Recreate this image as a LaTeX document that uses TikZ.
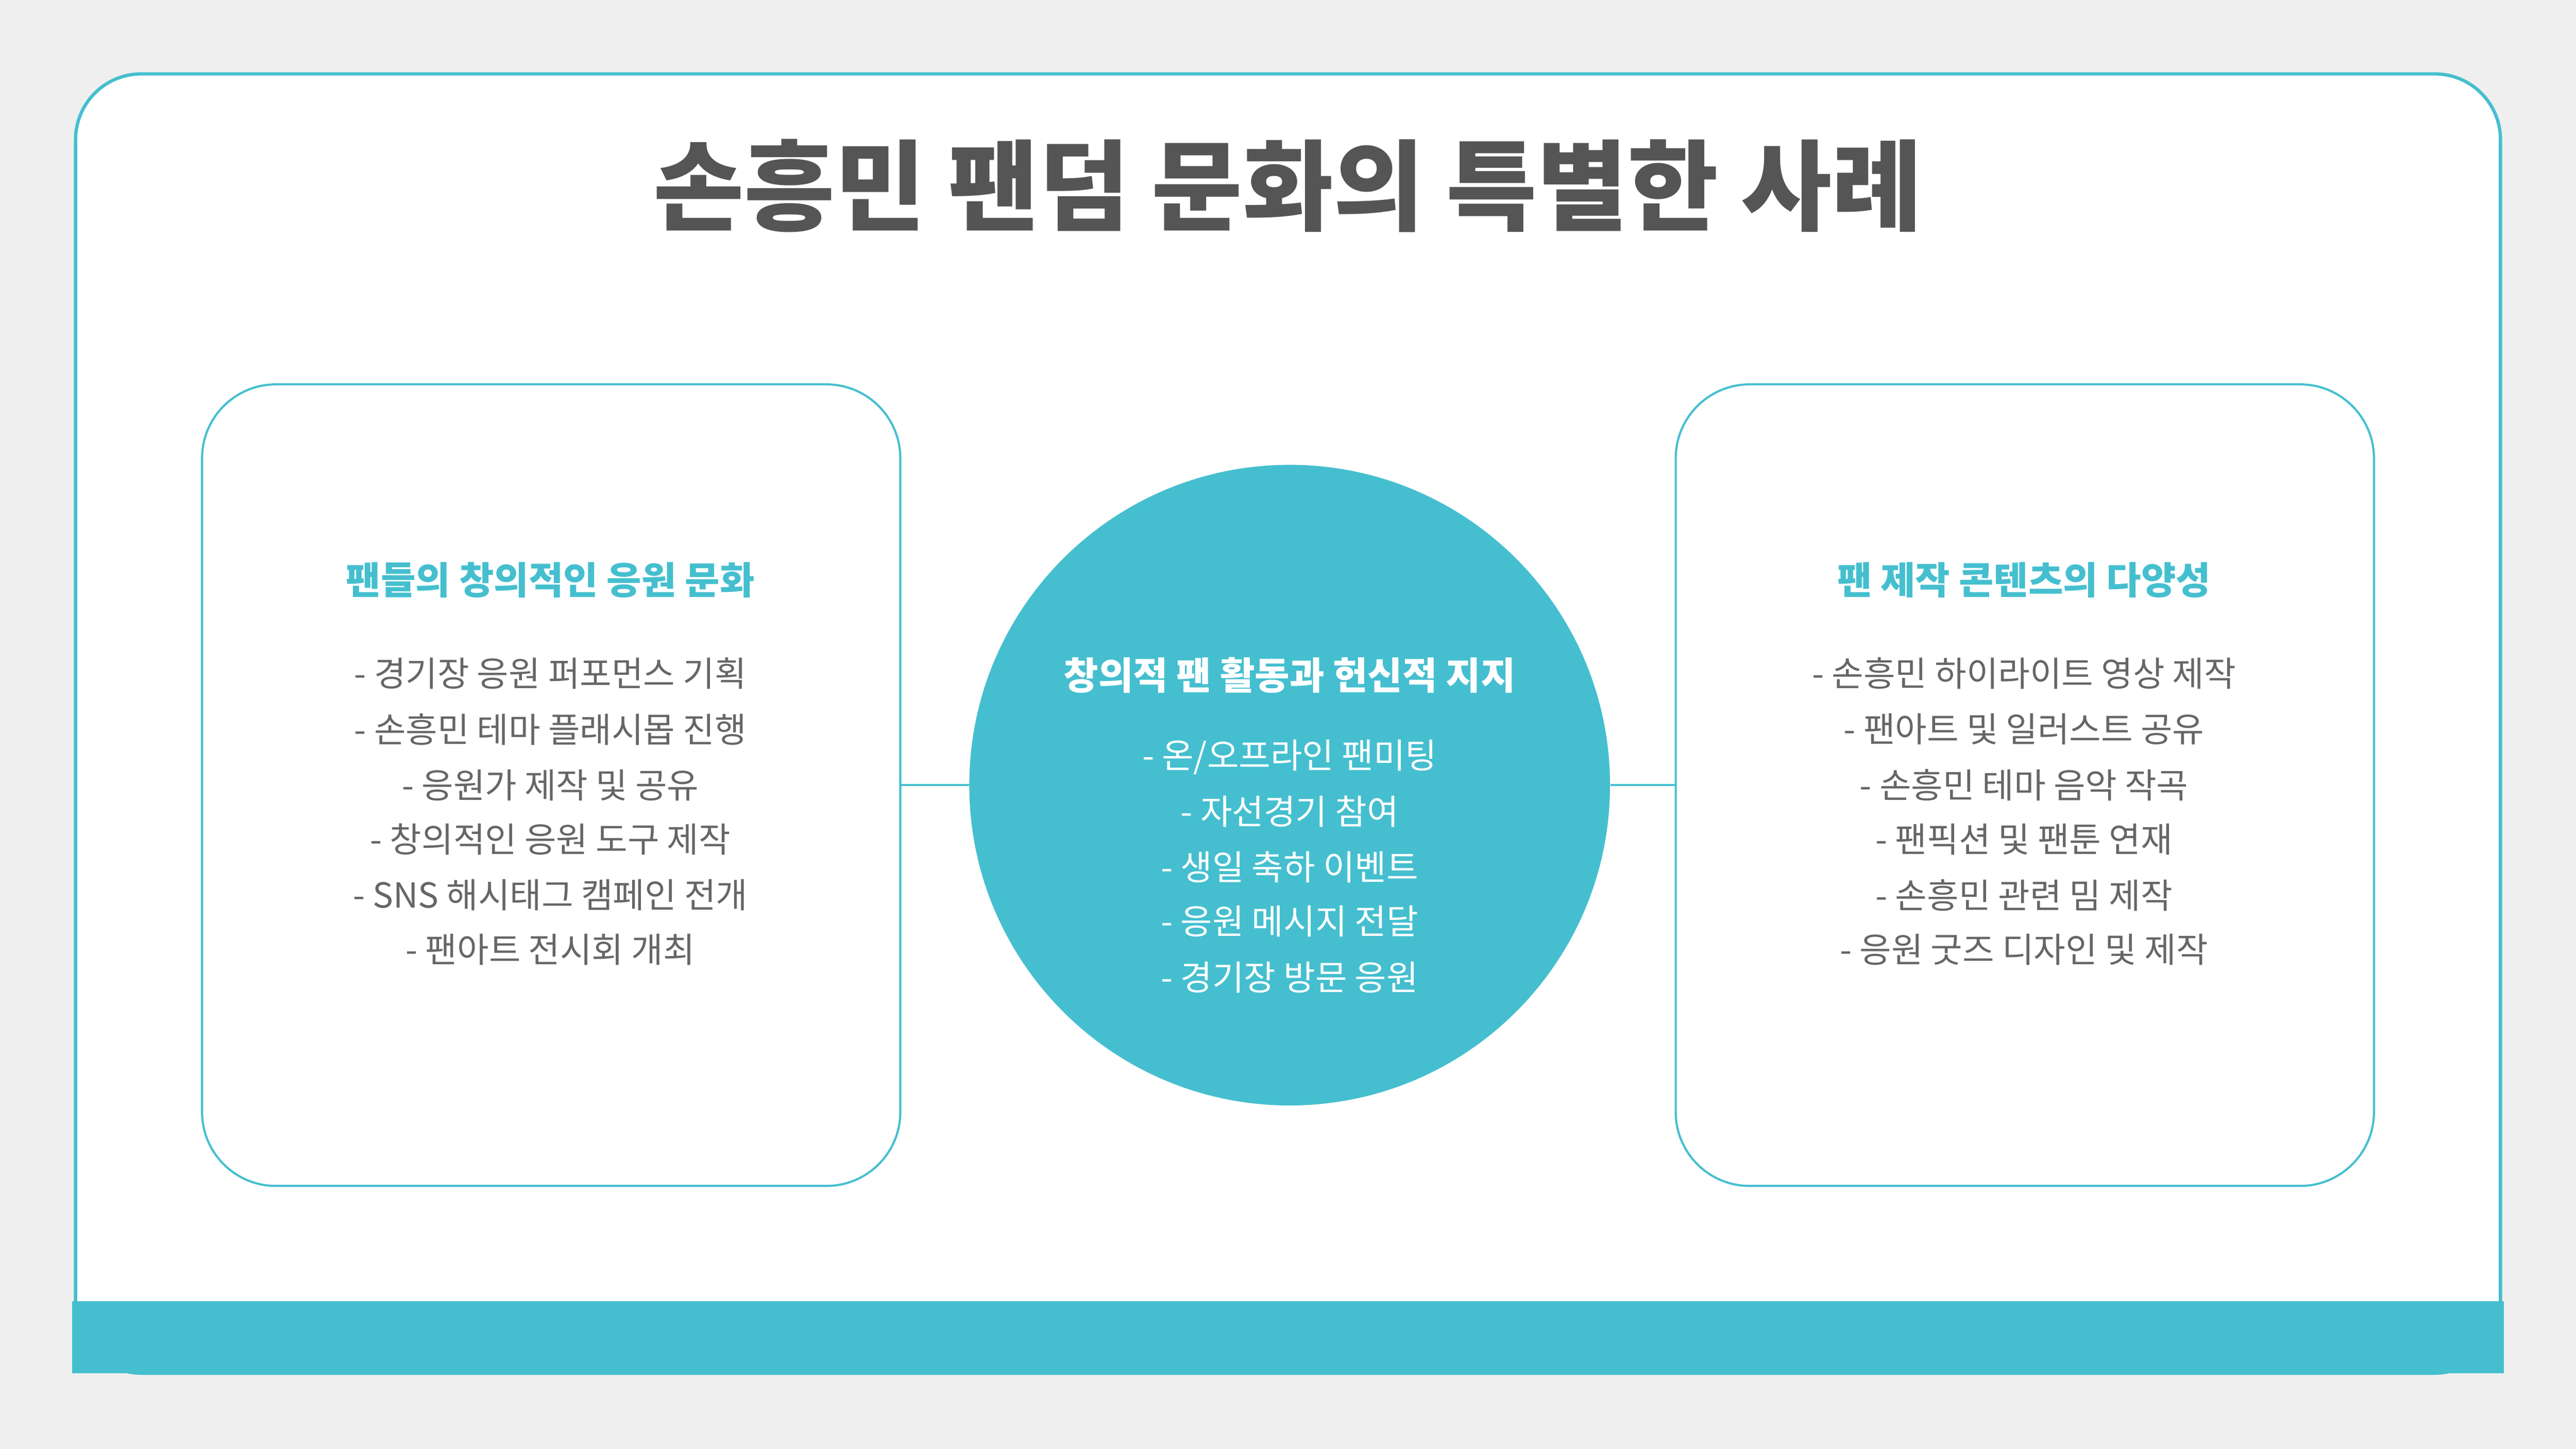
\documentclass[tikz,border=0pt]{standalone}
\usepackage{fontspec}
\setmainfont{Noto Sans CJK KR}
\definecolor{teal1}{HTML}{45BFCF}
\definecolor{bg}{HTML}{EFEFEF}
\definecolor{ttl}{HTML}{555555}
\definecolor{itm}{HTML}{666666}
\begin{document}
\begin{tikzpicture}[x=1pt,y=-1pt,
  card/.style={draw=teal1,line width=1.3pt,fill=white,rounded corners=45pt},
  head/.style={font=\fontsize{23}{28}\selectfont\bfseries,text=teal1},
  item/.style={font=\fontsize{21}{26}\selectfont,text=itm},
  citem/.style={font=\fontsize{21}{26}\selectfont,text=white},
  link/.style={draw=teal1,line width=1.3pt}]
\fill[bg] (0,0) rectangle (1568,882);
\useasboundingbox (0,0) rectangle (1568,882);
\draw[draw=teal1,line width=2pt,fill=white,rounded corners=40pt] (46,45) -- (1522,45) -- (1522,836) -- (46,836) -- cycle;
\fill[teal1] (44,792) rectangle (1524,836);
\node[font=\fontsize{60}{70}\selectfont\bfseries,text=ttl] (title) at (784,113) {손흥민 팬덤 문화의 특별한 사례};
\draw[card] (123,234) rectangle (548,722);
\node (L) at (548,478) {};
\draw[card] (1020,234) rectangle (1445,722);
\node (R) at (1020,478) {};
\node[circle,fill=teal1,minimum size=390pt,inner sep=0] (C) at (785,478) {};
\draw[link] (548,478) coordinate (la) -- (C.west);
\draw[link] (C.east) -- (1020,478) coordinate (ra);
\node[head] (lh) at (335,353) {팬들의 창의적인 응원 문화};
\node[item] (l1) at (335,410) {- 경기장 응원 퍼포먼스 기획};
\node[item] (l2) at (335,444) {- 손흥민 테마 플래시몹 진행};
\node[item] (l3) at (335,478) {- 응원가 제작 및 공유};
\node[item] (l4) at (335,511) {- 창의적인 응원 도구 제작};
\node[item] (l5) at (335,545) {- SNS 해시태그 캠페인 전개};
\node[item] (l6) at (335,578) {- 팬아트 전시회 개최};
\node[head,text=white] (ch) at (785,411) {창의적 팬 활동과 헌신적 지지};
\node[citem] (c1) at (785,461) {- 온/오프라인 팬미팅};
\node[citem] (c2) at (785,494) {- 자선경기 참여};
\node[citem] (c3) at (785,528) {- 생일 축하 이벤트};
\node[citem] (c4) at (785,561) {- 응원 메시지 전달};
\node[citem] (c5) at (785,595) {- 경기장 방문 응원};
\node[head] (rh) at (1232,353) {팬 제작 콘텐츠의 다양성};
\node[item] (r1) at (1232,410) {- 손흥민 하이라이트 영상 제작};
\node[item] (r2) at (1232,444) {- 팬아트 및 일러스트 공유};
\node[item] (r3) at (1232,478) {- 손흥민 테마 음악 작곡};
\node[item] (r4) at (1232,511) {- 팬픽션 및 팬툰 연재};
\node[item] (r5) at (1232,545) {- 손흥민 관련 밈 제작};
\node[item] (r6) at (1232,578) {- 응원 굿즈 디자인 및 제작};
\end{tikzpicture}
\end{document}
